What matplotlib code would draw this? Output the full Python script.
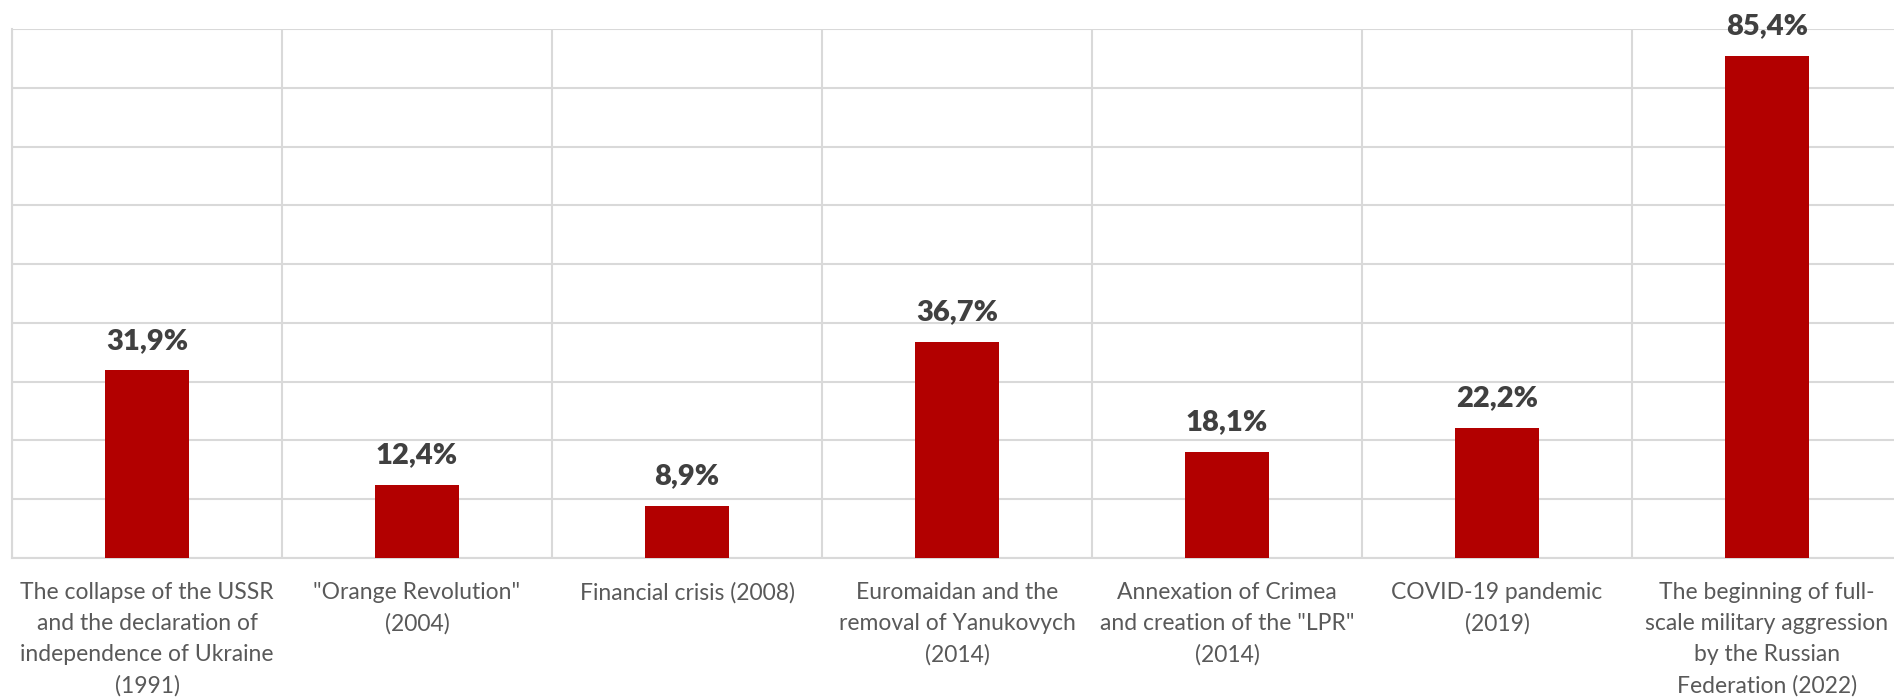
import numpy as np
import matplotlib.pyplot as plt

labels = [
    "The collapse of the USSR\nand the declaration of\nindependence of Ukraine\n(1991)",
    "\"Orange Revolution\"\n(2004)",
    "Financial crisis (2008)",
    "Euromaidan and the\nremoval of Yanukovych\n(2014)",
    "Annexation of Crimea\nand creation of the \"LPR\"\n(2014)",
    "COVID-19 pandemic\n(2019)",
    "The beginning of full-\nscale military aggression\nby the Russian\nFederation (2022)",
]
values = [31.9, 12.4, 8.9, 36.7, 18.1, 22.2, 85.4]

plt.rcParams['font.family'] = ['Lato', 'DejaVu Sans']

fig = plt.figure(figsize=(18.94, 6.98), dpi=100)
W, H = 1894, 698
ax = fig.add_axes([12 / W, (H - 558) / H, 1890 / W, (558 - 29) / H])

x = np.arange(len(values))
ax.bar(x, values, width=0.31, color="#B20000", zorder=3)

for xi, v in zip(x, values):
    ax.annotate(f"{v:.1f}%".replace(".", ","), (xi, v), xytext=(0, 12),
                textcoords="offset points", ha="center", va="bottom",
                fontsize=21, fontweight="heavy", color="#404040")

ax.set_xlim(-0.5, len(values) - 0.5)
ax.set_ylim(0, 90)
ax.set_yticks(np.arange(0, 91, 10))
ax.set_yticklabels([])
ax.set_xticks(x)
ax.set_xticklabels(labels, fontsize=16.5, color="#595959", linespacing=1.6)
ax.set_xticks(np.arange(-0.5, len(values), 1), minor=True)
ax.tick_params(axis="both", which="both", length=0)
ax.tick_params(axis="x", pad=17)
ax.grid(axis="y", which="major", color="#D9D9D9", lw=1.5, zorder=0)
ax.grid(axis="x", which="minor", color="#D9D9D9", lw=1.5, zorder=0)
for s in ["top", "right"]:
    ax.spines[s].set_visible(False)
for s in ["left", "bottom"]:
    ax.spines[s].set_color("#D9D9D9")
    ax.spines[s].set_linewidth(1.5)

fig.savefig("out.png", dpi=100)
